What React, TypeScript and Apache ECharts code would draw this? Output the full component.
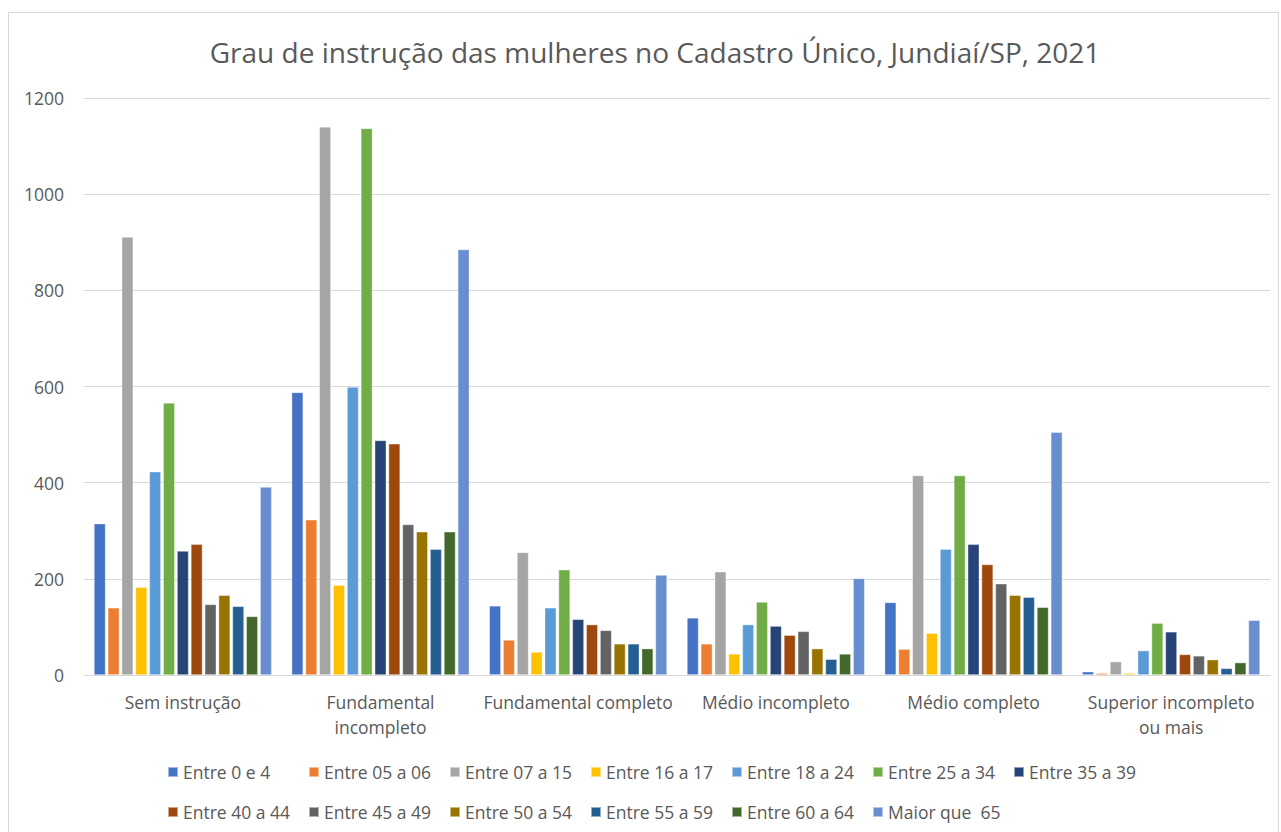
import React, { useEffect, useRef } from "react";
import * as echarts from "echarts";

const categories = [
  "Sem instrução",
  "Fundamental\nincompleto",
  "Fundamental completo",
  "Médio incompleto",
  "Médio completo",
  "Superior incompleto\nou mais",
];

const seriesNames = [
  "Entre 0 e 4",
  "Entre 05 a 06",
  "Entre 07 a 15",
  "Entre 16 a 17",
  "Entre 18 a 24",
  "Entre 25 a 34",
  "Entre 35 a 39",
  "Entre 40 a 44",
  "Entre 45 a 49",
  "Entre 50 a 54",
  "Entre 55 a 59",
  "Entre 60 a 64",
  "Maior que  65",
];

const colors = [
  "#4472C4", "#ED7D31", "#A5A5A5", "#FFC000", "#5B9BD5", "#70AD47", "#264478",
  "#9E480E", "#636363", "#997300", "#255E91", "#43682B", "#698ED0",
];

// values per age band, across the six education levels
const entre0e4 = [315, 588, 144, 119, 151, 7];
const entre05a06 = [140, 323, 73, 65, 54, 4];
const entre07a15 = [911, 1140, 255, 215, 415, 28];
const entre16a17 = [183, 187, 48, 44, 87, 4];
const entre18a24 = [423, 599, 140, 105, 262, 51];
const entre25a34 = [566, 1137, 219, 152, 415, 108];
const entre35a39 = [258, 488, 116, 102, 272, 90];
const entre40a44 = [272, 481, 105, 83, 230, 43];
const entre45a49 = [147, 313, 93, 91, 190, 40];
const entre50a54 = [166, 298, 65, 55, 166, 32];
const entre55a59 = [143, 262, 65, 33, 162, 14];
const entre60a64 = [122, 298, 55, 44, 141, 26];
const maiorQue65 = [391, 885, 208, 201, 505, 114];

const seriesValues = [
  entre0e4, entre05a06, entre07a15, entre16a17, entre18a24, entre25a34, entre35a39,
  entre40a44, entre45a49, entre50a54, entre55a59, entre60a64, maiorQue65,
];

const yTicks = [0, 200, 400, 600, 800, 1000, 1200];

const FONT = "'Open Sans', sans-serif";
const TEXT = "#595959";

export default function App() {
  const ref = useRef<HTMLDivElement>(null);

  useEffect(() => {
    if (!ref.current) return;
    const chart = echarts.init(ref.current, undefined, { renderer: "svg" });
    chart.setOption({
      animation: false,
      backgroundColor: "#ffffff",
      color: colors,
      textStyle: { fontFamily: FONT },
      title: {
        text: "Grau de instrução das mulheres no Cadastro Único, Jundiaí/SP, 2021",
        left: 650,
        textAlign: "center",
        top: 33,
        textStyle: { fontFamily: FONT, fontSize: 28, fontWeight: "normal", color: TEXT },
      },
      graphic: [
        {
          type: "rect",
          shape: { x: 8.5, y: 12.5, width: 1270, height: 840 },
          style: { fill: "none", stroke: "#d9d9d9", lineWidth: 1 },
          silent: true,
        },
      ],
      legend: {
        left: 162,
        top: 749,
        width: 990,
        itemWidth: 10,
        itemHeight: 10,
        itemGap: 4,
        icon: "rect",
        data: seriesNames,
        textStyle: {
          fontFamily: FONT,
          fontSize: 17.5,
          color: TEXT,
          width: 121,
          lineHeight: 36,
          overflow: "none",
        },
      },
      grid: { left: 84, right: 11, top: 98, bottom: 157, containLabel: false },
      xAxis: {
        type: "category",
        data: categories,
        axisLine: { show: true, lineStyle: { color: "#d9d9d9", width: 1 } },
        axisTick: { show: false },
        axisLabel: {
          fontFamily: FONT,
          fontSize: 17.5,
          color: TEXT,
          margin: 14,
          lineHeight: 25,
          interval: 0,
        },
      },
      yAxis: {
        type: "value",
        min: yTicks[0],
        max: yTicks[yTicks.length - 1],
        interval: 200,
        axisLine: { show: false },
        axisTick: { show: false },
        splitLine: { lineStyle: { color: "#d9d9d9", width: 1 } },
        axisLabel: {
          fontFamily: FONT,
          fontSize: 17.5,
          color: TEXT,
          margin: 20,
          formatter: (v: number) => String(v),
        },
      },
      series: seriesNames.map((name, i) => ({
        name,
        type: "bar",
        data: seriesValues[i],
        barGap: "18%",
        barCategoryGap: "10%",
        itemStyle: { color: colors[i], borderColor: "rgba(255,255,255,0.5)", borderWidth: 0.75 },
      })),
    });
    return () => chart.dispose();
  }, []);

  return (
    <div
      ref={ref}
      style={{ position: "fixed", left: 0, top: 0, width: 1281, height: 832 }}
    />
  );
}
